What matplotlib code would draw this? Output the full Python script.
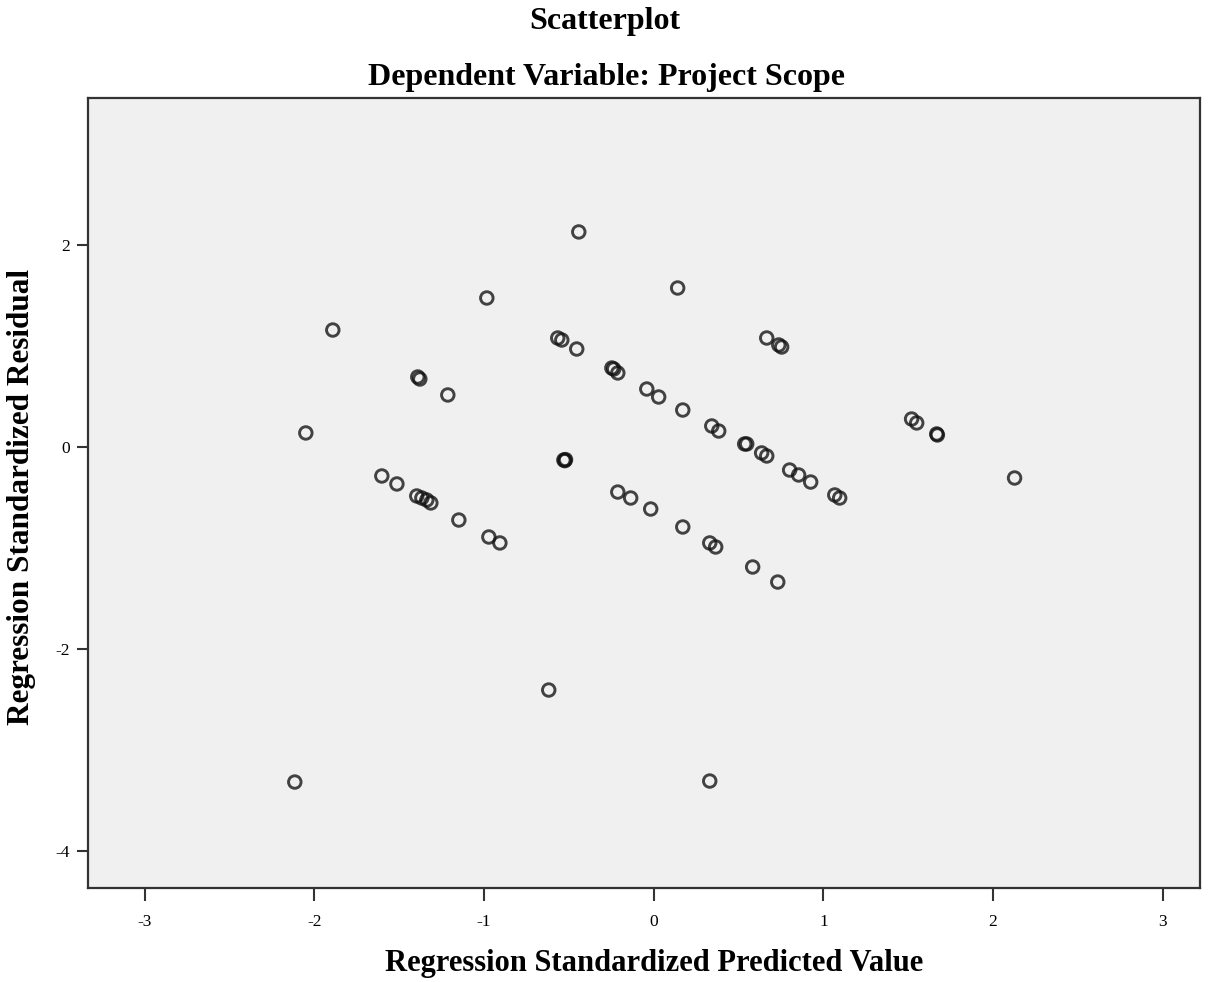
import matplotlib
matplotlib.use("Agg")
import matplotlib.pyplot as plt

# Data
pred_x = [-0.442, -0.984, 0.141, -1.892, -0.566, -0.542, -0.454, 0.666, 0.737, 0.754,
          -1.391, -1.379, -1.214, -0.247, -0.236, -0.212, -0.041, 0.029, 0.171, 0.342,
          0.383, 0.536, 0.548, 0.636, 0.666, 0.801, 0.854, 0.925, 1.067, 1.096,
          -2.051, -0.530, -0.524, -0.520, -1.603, -1.514, -1.397, -1.367, -1.338, -1.314,
          -1.149, -0.972, -0.907, -0.212, -0.136, -0.018, 0.171, 0.330, 0.365, 0.583,
          0.731, 1.520, 1.550, 1.668, 1.672, 2.127, -0.619, -2.116, 0.330]
resid_y = [2.129, 1.475, 1.574, 1.158, 1.079, 1.059, 0.970, 1.079, 1.010, 0.990,
           0.693, 0.673, 0.515, 0.782, 0.772, 0.733, 0.574, 0.495, 0.366, 0.208,
           0.158, 0.030, 0.030, -0.059, -0.089, -0.228, -0.277, -0.347, -0.475, -0.505,
           0.139, -0.129, -0.135, -0.125, -0.287, -0.366, -0.485, -0.505, -0.525, -0.554,
           -0.723, -0.891, -0.950, -0.446, -0.505, -0.614, -0.792, -0.950, -0.990, -1.188,
           -1.337, 0.277, 0.238, 0.129, 0.119, -0.307, -2.406, -3.317, -3.307]

x_ticks = [-3, -2, -1, 0, 1, 2, 3]
y_ticks = [-4, -2, 0, 2]

title1 = "Scatterplot"
title2 = "Dependent Variable: Project Scope"
x_label = "Regression Standardized Predicted Value"
y_label = "Regression Standardized Residual"

serif = ["Liberation Serif", "DejaVu Serif"]

fig = plt.figure(figsize=(12.25, 9.82), dpi=100)
ax = fig.add_axes([88 / 1225, 1 - 888 / 982, (1200 - 88) / 1225, (888 - 98) / 982])
ax.set_facecolor("#f0f0f0")

ax.scatter(pred_x, resid_y, s=9 ** 2, facecolors="none", edgecolors="#111111",
           linewidths=2.1, alpha=0.78, zorder=3)

ax.set_xlim(-3.335, 3.22)
ax.set_ylim(-4.366, 3.455)
ax.set_xticks(x_ticks)
ax.set_yticks(y_ticks)
ax.set_xticklabels([str(t) for t in x_ticks], fontfamily=serif, fontsize=12.5)
ax.set_yticklabels([str(t) for t in y_ticks], fontfamily=serif, fontsize=12.5)
ax.tick_params(axis="x", direction="out", length=9, width=1.5, color="#333333", pad=10)
ax.tick_params(axis="y", direction="out", length=8, width=1.5, color="#333333", pad=5)

for side in ["left", "bottom", "top", "right"]:
    ax.spines[side].set_color("#333333")
    ax.spines[side].set_linewidth(1.6)

fig.text(605 / 1225, 1 - 21 / 982, title1, ha="center", va="center",
         fontfamily=serif, fontweight="bold", fontsize=23)
fig.text(606 / 1225, 1 - 77 / 982, title2, ha="center", va="center",
         fontfamily=serif, fontweight="bold", fontsize=23)
fig.text(654 / 1225, 1 - 963 / 982, x_label, ha="center", va="center",
         fontfamily=serif, fontweight="bold", fontsize=22)
fig.text(22 / 1225, 1 - 497 / 982, y_label, ha="center", va="center", rotation=90,
         fontfamily=serif, fontweight="bold", fontsize=22.5)

fig.savefig("out.png", dpi=100, facecolor="white")
